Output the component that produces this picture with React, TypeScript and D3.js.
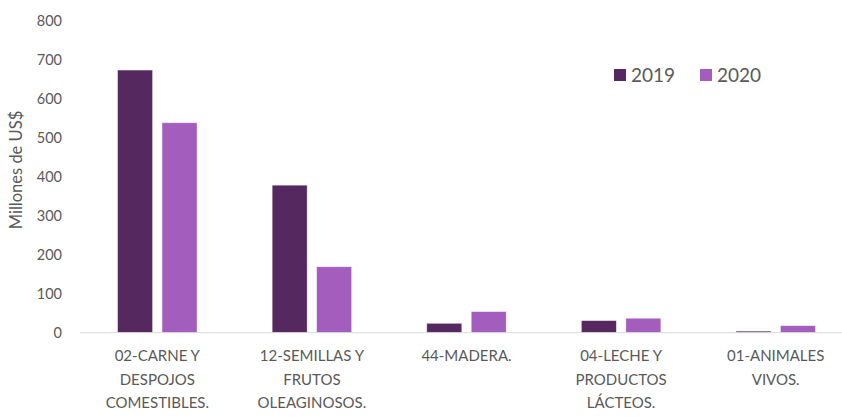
import React, { useEffect, useRef } from 'react';
import * as d3 from 'd3';

const categories = [
  ['02-CARNE Y', 'DESPOJOS', 'COMESTIBLES.'],
  ['12-SEMILLAS Y', 'FRUTOS', 'OLEAGINOSOS.'],
  ['44-MADERA.'],
  ['04-LECHE Y', 'PRODUCTOS', 'LÁCTEOS.'],
  ['01-ANIMALES', 'VIVOS.'],
];
const seriesNames = ['2019', '2020'];
const values2019 = [673, 378, 24, 31, 4];
const values2020 = [538, 169, 54, 37, 18];
const yTicks = [0, 100, 200, 300, 400, 500, 600, 700, 800];

const colors = ['#55285f', '#a35ebd'];
const font = 'Lato, "Open Sans", sans-serif';

const App = () => {
  const ref = useRef<SVGSVGElement>(null);

  useEffect(() => {
    if (!ref.current) return;
    const svg = d3.select(ref.current);
    svg.selectAll('*').remove();

    const width = 842;
    const height = 417;
    const margin = { left: 80, right: -11, top: 20.5, bottom: 84.3 };

    const keys = categories.map((c) => c.join(' '));
    const x0 = d3.scaleBand().domain(keys).range([margin.left, width - margin.right]).padding(0);
    const x1 = d3.scaleBand()
      .domain(seriesNames)
      .range([0, x0.bandwidth()])
      .paddingInner(0.2135)
      .paddingOuter(0.845);
    const y = d3.scaleLinear().domain([0, 800]).range([height - margin.bottom, margin.top]);

    // y tick labels
    svg.append('g')
      .selectAll('text')
      .data(yTicks)
      .join('text')
      .attr('x', 62)
      .attr('y', (d) => y(d))
      .attr('dy', '0.35em')
      .attr('text-anchor', 'end')
      .attr('font-family', font)
      .attr('font-size', 14.5)
      .attr('fill', '#595959')
      .text((d) => d);

    // axis title
    svg.append('text')
      .attr('transform', `translate(22,${170}) rotate(-90)`)
      .attr('text-anchor', 'middle')
      .attr('font-family', font)
      .attr('font-size', 16.5)
      .attr('fill', '#595959')
      .text('Millones de US$');

    // bars
    const series = [values2019, values2020];
    series.forEach((vals, si) => {
      svg.append('g')
        .selectAll('rect')
        .data(vals)
        .join('rect')
        .attr('x', (d, i) => (x0(keys[i]) as number) + (x1(seriesNames[si]) as number))
        .attr('y', (d) => y(d))
        .attr('width', x1.bandwidth())
        .attr('height', (d) => y(0) - y(d))
        .attr('fill', colors[si])
        .attr('stroke', '#ffffff')
        .attr('stroke-opacity', 0.5)
        .attr('stroke-width', 0.75);
    });

    // baseline
    svg.append('line')
      .attr('x1', margin.left)
      .attr('x2', width)
      .attr('y1', y(0))
      .attr('y2', y(0))
      .attr('stroke', '#d9d9d9')
      .attr('stroke-width', 1);

    // category labels
    categories.forEach((lines, i) => {
      const cx = (x0(keys[i]) as number) + x0.bandwidth() / 2;
      const t = svg.append('text')
        .attr('text-anchor', 'middle')
        .attr('font-family', font)
        .attr('font-size', 15)
        .attr('fill', '#595959');
      lines.forEach((l, j) => {
        t.append('tspan').attr('x', cx).attr('y', 361 + j * 23.5).text(l);
      });
    });

    // legend
    const legend = svg.append('g');
    seriesNames.forEach((name, i) => {
      const lx = 614 + i * 86;
      legend.append('rect')
        .attr('x', lx)
        .attr('y', 69)
        .attr('width', 12)
        .attr('height', 12)
        .attr('fill', colors[i]);
      legend.append('text')
        .attr('x', lx + 17)
        .attr('y', 82)
        .attr('font-family', font)
        .attr('font-size', 19)
        .attr('fill', '#595959')
        .text(name);
    });
  }, []);

  return (
    <svg
      ref={ref}
      width={842}
      height={417}
      style={{ position: 'absolute', left: 0, top: 0, overflow: 'hidden', background: '#fff' }}
    />
  );
};

export default App;
